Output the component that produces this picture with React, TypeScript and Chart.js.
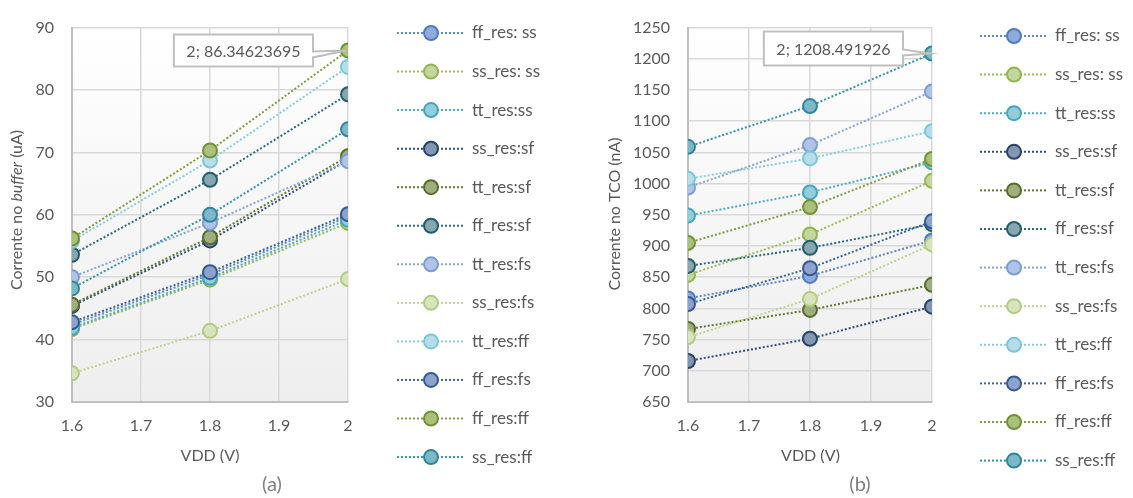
import React, { useEffect, useRef } from 'react';
import { Chart, registerables } from 'chart.js';

Chart.register(...registerables);

// ---------------- data ----------------
const vdd = [1.6, 1.8, 2];

const seriesNames = [
  'ff_res: ss', 'ss_res: ss', 'tt_res:ss', 'ss_res:sf', 'tt_res:sf', 'ff_res:sf',
  'tt_res:fs', 'ss_res:fs', 'tt_res:ff', 'ff_res:fs', 'ff_res:ff', 'ss_res:ff',
];

const lineColors = [
  '#5B87C9', '#9BBB59', '#4BACC6', '#2D4F7C', '#5F7A2E', '#276A7C',
  '#84A4D8', '#BCD48C', '#86CDE0', '#3B64A0', '#7E9D3F', '#3592AB',
];
const markerBorders = [
  '#4F7BC0', '#93B552', '#45A6C0', '#27446C', '#566E29', '#225E6E',
  '#7C9CD4', '#B2CC80', '#7CC6DA', '#345A94', '#739237', '#2F879F',
];
const markerFills = [
  '#8FAADC', '#C3D69B', '#92CDDC', '#8497B0', '#9FAE7E', '#86A6B0',
  '#B0C4E8', '#D7E4BD', '#B7DEE8', '#8EA3CB', '#A9C17B', '#7DB8C9',
];

// (a) Corrente no buffer (uA)
const buf_ff_ss = [42.4, 50.4, 59.7];
const buf_ss_ss = [41.7, 49.6, 58.7];
const buf_tt_ss = [41.9, 49.9, 59.2];
const buf_ss_sf = [45.4, 55.9, 68.8];
const buf_tt_sf = [45.6, 56.4, 69.4];
const buf_ff_sf = [53.6, 65.6, 79.3];
const buf_tt_fs = [50.0, 58.7, 68.6];
const buf_ss_fs = [34.6, 41.4, 49.7];
const buf_tt_ff = [55.8, 68.7, 83.7];
const buf_ff_fs = [42.8, 50.8, 60.1];
const buf_ff_ff = [56.2, 70.3, 86.34623695];
const buf_ss_ff = [48.2, 60.0, 73.7];

// (b) Corrente no TCO (nA)
const tco_ff_ss = [816, 852, 909];
const tco_ss_ss = [853.7, 918.4, 1004.4];
const tco_tt_ss = [948.7, 985.8, 1034];
const tco_ss_sf = [715.7, 751.4, 802.8];
const tco_tt_sf = [767, 797.5, 837.8];
const tco_ff_sf = [868, 897, 935];
const tco_tt_fs = [993.7, 1061.7, 1147.6];
const tco_ss_fs = [754, 815, 902.6];
const tco_tt_ff = [1007.6, 1040.4, 1084];
const tco_ff_fs = [807, 864.3, 939.6];
const tco_ff_ff = [905, 962.4, 1039.4];
const tco_ss_ff = [1059, 1124.3, 1208.491926];

const bufferSeries = [
  buf_ff_ss, buf_ss_ss, buf_tt_ss, buf_ss_sf, buf_tt_sf, buf_ff_sf,
  buf_tt_fs, buf_ss_fs, buf_tt_ff, buf_ff_fs, buf_ff_ff, buf_ss_ff,
];
const tcoSeries = [
  tco_ff_ss, tco_ss_ss, tco_tt_ss, tco_ss_sf, tco_tt_sf, tco_ff_sf,
  tco_tt_fs, tco_ss_fs, tco_tt_ff, tco_ff_fs, tco_ff_ff, tco_ss_ff,
];

const xTicks = { min: 1.6, max: 2, step: 0.1 };
const bufferAxis = { min: 30, max: 90, step: 10 };
const tcoAxis = { min: 650, max: 1250, step: 50 };

// ---------------- styling ----------------
const FONT = 'Lato, "Open Sans", sans-serif';
const TEXT = '#595959';

type Panel = {
  w: number;
  h: number;
  plot: { left: number; top: number; right: number; bottom: number };
  axis: { min: number; max: number; step: number };
  series: number[][];
  yTitle: [string, boolean][];
  yTitlePos: [number, number];
  xTitle: string;
  xTitlePos: [number, number];
  caption: string;
  captionPos: [number, number];
  legend: { x0: number; x1: number; xm: number; xt: number; y0: number; dy: number };
  callout: { series: number; point: number; dx: number; dy: number; h: number };
};

const panelA: Panel = {
  w: 566,
  h: 498,
  plot: { left: 72, top: 18, right: 348, bottom: 402 },
  axis: bufferAxis,
  series: bufferSeries,
  yTitle: [['Corrente no ', false], ['buffer', true], [' (uA)', false]],
  yTitlePos: [17, 210],
  xTitle: 'VDD (V)',
  xTitlePos: [210, 456],
  caption: '(a)',
  captionPos: [272, 485],
  legend: { x0: 397, x1: 463, xm: 431, xt: 472, y0: 33, dy: 38.55 },
  callout: { series: 10, point: 2, dx: 35, dy: 16, h: 32 },
};

const panelB: Panel = {
  w: 567,
  h: 498,
  plot: { left: 122, top: 25, right: 366, bottom: 402 },
  axis: tcoAxis,
  series: tcoSeries,
  yTitle: [['Corrente no TCO (nA)', false]],
  yTitlePos: [49, 214],
  xTitle: 'VDD (V)',
  xTitlePos: [244.5, 456],
  caption: '(b)',
  captionPos: [294, 485],
  legend: { x0: 414, x1: 481, xm: 448, xt: 489, y0: 36, dy: 38.6 },
  callout: { series: 11, point: 2, dx: 29, dy: 22, h: 34 },
};

function drawMarker(ctx: CanvasRenderingContext2D, x: number, y: number, i: number) {
  ctx.beginPath();
  ctx.arc(x, y, 7, 0, Math.PI * 2);
  ctx.fillStyle = markerFills[i];
  ctx.fill();
  ctx.lineWidth = 2;
  ctx.strokeStyle = markerBorders[i];
  ctx.stroke();
}

function makePlugin(p: Panel) {
  return {
    id: 'panelDecor',
    beforeDraw(chart: any) {
      const { ctx, chartArea: a } = chart;
      const g = ctx.createLinearGradient(0, a.top, 0, a.bottom);
      g.addColorStop(0, '#FFFFFF');
      g.addColorStop(1, '#EEEEEE');
      ctx.save();
      ctx.fillStyle = g;
      ctx.fillRect(a.left, a.top, a.right - a.left, a.bottom - a.top);
      ctx.restore();
    },
    afterDraw(chart: any) {
      const ctx: CanvasRenderingContext2D = chart.ctx;
      ctx.save();
      // y title (rotated, mixed styles)
      ctx.fillStyle = TEXT;
      ctx.textBaseline = 'middle';
      const normal = `16px ${FONT}`;
      const italic = `italic 16px ${FONT}`;
      let total = 0;
      const widths = p.yTitle.map(([t, it]) => {
        ctx.font = it ? italic : normal;
        const w = ctx.measureText(t).width;
        total += w;
        return w;
      });
      ctx.save();
      ctx.translate(p.yTitlePos[0], p.yTitlePos[1]);
      ctx.rotate(-Math.PI / 2);
      ctx.textAlign = 'left';
      let x = -total / 2;
      p.yTitle.forEach(([t, it], k) => {
        ctx.font = it ? italic : normal;
        ctx.fillText(t, x, 0);
        x += widths[k];
      });
      ctx.restore();

      // x title
      ctx.font = normal;
      ctx.textAlign = 'center';
      ctx.fillText(p.xTitle, p.xTitlePos[0], p.xTitlePos[1]);

      // caption
      ctx.font = `20px ${FONT}`;
      ctx.fillStyle = '#7F7F7F';
      ctx.fillText(p.caption, p.captionPos[0], p.captionPos[1]);

      // legend
      const L = p.legend;
      seriesNames.forEach((name, i) => {
        const y = L.y0 + i * L.dy;
        ctx.beginPath();
        ctx.setLineDash([2, 2]);
        ctx.lineWidth = 2;
        ctx.strokeStyle = lineColors[i];
        ctx.moveTo(L.x0, y);
        ctx.lineTo(L.x1, y);
        ctx.stroke();
        ctx.setLineDash([]);
        drawMarker(ctx, L.xm, y, i);
        ctx.font = `17px ${FONT}`;
        ctx.fillStyle = TEXT;
        ctx.textAlign = 'left';
        ctx.textBaseline = 'middle';
        ctx.fillText(name, L.xt, y);
      });

      // callout
      const c = p.callout;
      const el = chart.getDatasetMeta(c.series).data[c.point];
      const px = el.x;
      const py = el.y;
      const label = `${vdd[c.point]}; ${p.series[c.series][c.point]}`;
      ctx.font = normal;
      const tw = ctx.measureText(label).width;
      const right = px - c.dx;
      const left = right - tw - 25;
      const top = py - c.dy;
      const bottom = top + c.h;
      const t1 = top + c.h / 2 + 1;
      const t2 = top + c.h / 2 + 7;
      ctx.beginPath();
      ctx.moveTo(left, top);
      ctx.lineTo(right, top);
      ctx.lineTo(right, t1);
      ctx.lineTo(px - 2, py);
      ctx.lineTo(right, t2);
      ctx.lineTo(right, bottom);
      ctx.lineTo(left, bottom);
      ctx.closePath();
      ctx.fillStyle = '#FFFFFF';
      ctx.fill();
      ctx.lineWidth = 2;
      ctx.strokeStyle = '#BFBFBF';
      ctx.stroke();
      ctx.fillStyle = TEXT;
      ctx.textAlign = 'center';
      ctx.textBaseline = 'middle';
      ctx.fillText(label, (left + right) / 2, (top + bottom) / 2 + 1);
      ctx.restore();
    },
  };
}

function buildChart(canvas: HTMLCanvasElement, p: Panel) {
  const n = seriesNames.length;
  const datasets = p.series.map((s, i) => ({
    label: seriesNames[i],
    data: vdd.map((x, j) => ({ x, y: s[j] })),
    borderColor: lineColors[i],
    borderWidth: 2,
    borderDash: [2, 2],
    pointRadius: 7,
    pointHoverRadius: 7,
    pointBackgroundColor: markerFills[i],
    pointBorderColor: markerBorders[i],
    pointBorderWidth: 2,
    fill: false,
    tension: 0,
    order: n - i,
  }));
  return new Chart(canvas, {
    type: 'line',
    data: { datasets },
    options: {
      animation: false,
      responsive: false,
      devicePixelRatio: 1,
      events: [],
      layout: {
        padding: { left: 0, top: p.plot.top, right: p.w - p.plot.right, bottom: 0 },
      },
      plugins: { legend: { display: false }, tooltip: { enabled: false } },
      scales: {
        x: {
          type: 'linear',
          min: xTicks.min,
          max: xTicks.max,
          afterFit: (scale: any) => {
            scale.height = p.h - p.plot.bottom;
          },
          ticks: {
            stepSize: xTicks.step,
            color: TEXT,
            font: { family: FONT, size: 16 },
            padding: 14,
            maxRotation: 0,
            callback: (v: any) => String(parseFloat(Number(v).toFixed(2))),
          },
          grid: { color: '#D9D9D9', lineWidth: 1.5, drawTicks: false },
          border: { display: true, color: '#BFBFBF', width: 2 },
        },
        y: {
          type: 'linear',
          min: p.axis.min,
          max: p.axis.max,
          afterFit: (scale: any) => {
            scale.width = p.plot.left;
          },
          ticks: {
            stepSize: p.axis.step,
            color: TEXT,
            font: { family: FONT, size: 16 },
            padding: 18,
            callback: (v: any) => String(Math.round(Number(v))),
          },
          grid: { color: '#D9D9D9', lineWidth: 1.5, drawTicks: false },
          border: { display: true, color: '#BFBFBF', width: 2 },
        },
      },
    },
    plugins: [makePlugin(p)],
  } as any);
}

export default function App() {
  const refA = useRef<HTMLCanvasElement>(null);
  const refB = useRef<HTMLCanvasElement>(null);
  useEffect(() => {
    const ca = buildChart(refA.current as HTMLCanvasElement, panelA);
    const cb = buildChart(refB.current as HTMLCanvasElement, panelB);
    return () => {
      ca.destroy();
      cb.destroy();
    };
  }, []);
  return (
    <div style={{ position: 'fixed', left: 0, top: 0, width: 1133, height: 498, background: '#FFFFFF' }}>
      <canvas
        ref={refA}
        width={panelA.w}
        height={panelA.h}
        style={{ position: 'absolute', left: 0, top: 0, width: panelA.w, height: panelA.h }}
      />
      <canvas
        ref={refB}
        width={panelB.w}
        height={panelB.h}
        style={{ position: 'absolute', left: 566, top: 0, width: panelB.w, height: panelB.h }}
      />
    </div>
  );
}
